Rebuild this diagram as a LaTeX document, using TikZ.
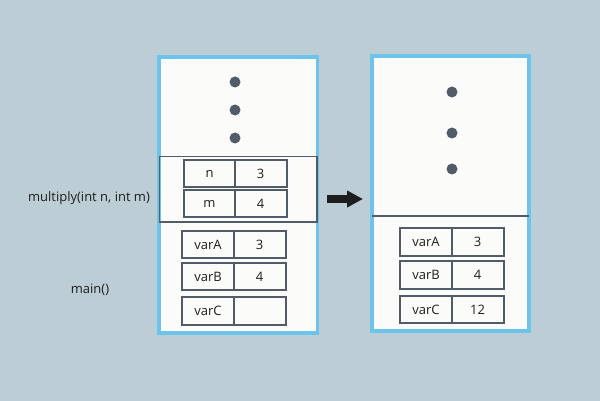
\documentclass[tikz,border=0pt]{standalone}
\usepackage{fontspec}
\setmainfont{Open Sans}
\usetikzlibrary{arrows.meta}
\definecolor{bgc}{HTML}{BCCDD6}
\definecolor{stackblue}{HTML}{6CC4EA}
\definecolor{slate}{HTML}{525C69}
\definecolor{paper}{HTML}{FBFBFA}
\definecolor{ink}{HTML}{1E1E1E}
\begin{document}
\begin{tikzpicture}[x=1pt,y=-1pt,
  every node/.style={font=\fontsize{13}{15}\selectfont, text=ink},
  stack/.style={draw=stackblue, line width=3.5pt, fill=paper, inner sep=0pt, outer sep=0pt},
  cell/.style={draw=slate, line width=2pt, fill=paper, minimum width=52pt, minimum height=27.5pt, inner sep=0pt, outer sep=0pt},
  frame/.style={draw=slate, line width=1.8pt, inner sep=0pt, outer sep=0pt},
  dot/.style={circle, fill=slate, minimum size=11pt, inner sep=0pt},
  bigarrow/.style={ink, line width=7pt, -{Triangle[length=16pt,width=16pt]}}
]
\fill[bgc] (0,0) rectangle (600,401);
\useasboundingbox (0,0) rectangle (600,401);

% stacks
\node[stack, minimum width=158.3pt, minimum height=276pt] (leftstack) at (238.15,195) {};
\node[stack, minimum width=157pt, minimum height=275pt] (rightstack) at (450.5,193.5) {};

% call frame of multiply
\node[frame, minimum width=157.5pt, minimum height=65.5pt] (callframe) at (238.25,189.25) {};

% divider in right stack
\coordinate (divL) at (372,216);
\coordinate (divR) at (529,216);
\draw[slate, line width=1.8pt] (divL) -- (divR);

% dots
\node[dot] (ld1) at (235,82) {};
\node[dot] (ld2) at (235,110) {};
\node[dot] (ld3) at (235,138) {};
\node[dot] (rd1) at (452,92) {};
\node[dot] (rd2) at (452,133) {};
\node[dot] (rd3) at (452,169) {};

% left cells
\node[cell] (nkey) at (209.5,173.5) {n};
\node[cell] (nval) at (260.5,173.5) {3};
\node[cell] (mkey) at (209.5,203.5) {m};
\node[cell] (mval) at (260.5,203.5) {4};
\node[cell] (lakey) at (208,244.5) {varA};
\node[cell] (laval) at (259.5,244.5) {3};
\node[cell] (lbkey) at (208,276.5) {varB};
\node[cell] (lbval) at (259.5,276.5) {4};
\node[cell] (lckey) at (208,311) {varC};
\node[cell] (lcval) at (259.5,311) {};

% right cells
\node[cell] (rakey) at (426,242) {varA};
\node[cell] (raval) at (477.5,242) {3};
\node[cell] (rbkey) at (426,275) {varB};
\node[cell] (rbval) at (477.5,275) {4};
\node[cell] (rckey) at (426,309.5) {varC};
\node[cell] (rcval) at (477.5,309.5) {12};

% labels
\node (multlabel) at (89,198) {multiply(int n, int m)};
\node (mainlabel) at (90,290) {main()};

% arrow
\coordinate (arrS) at (327,199);
\coordinate (arrE) at (363,199);
\draw[bigarrow] (arrS) -- (arrE);
\end{tikzpicture}
\end{document}
